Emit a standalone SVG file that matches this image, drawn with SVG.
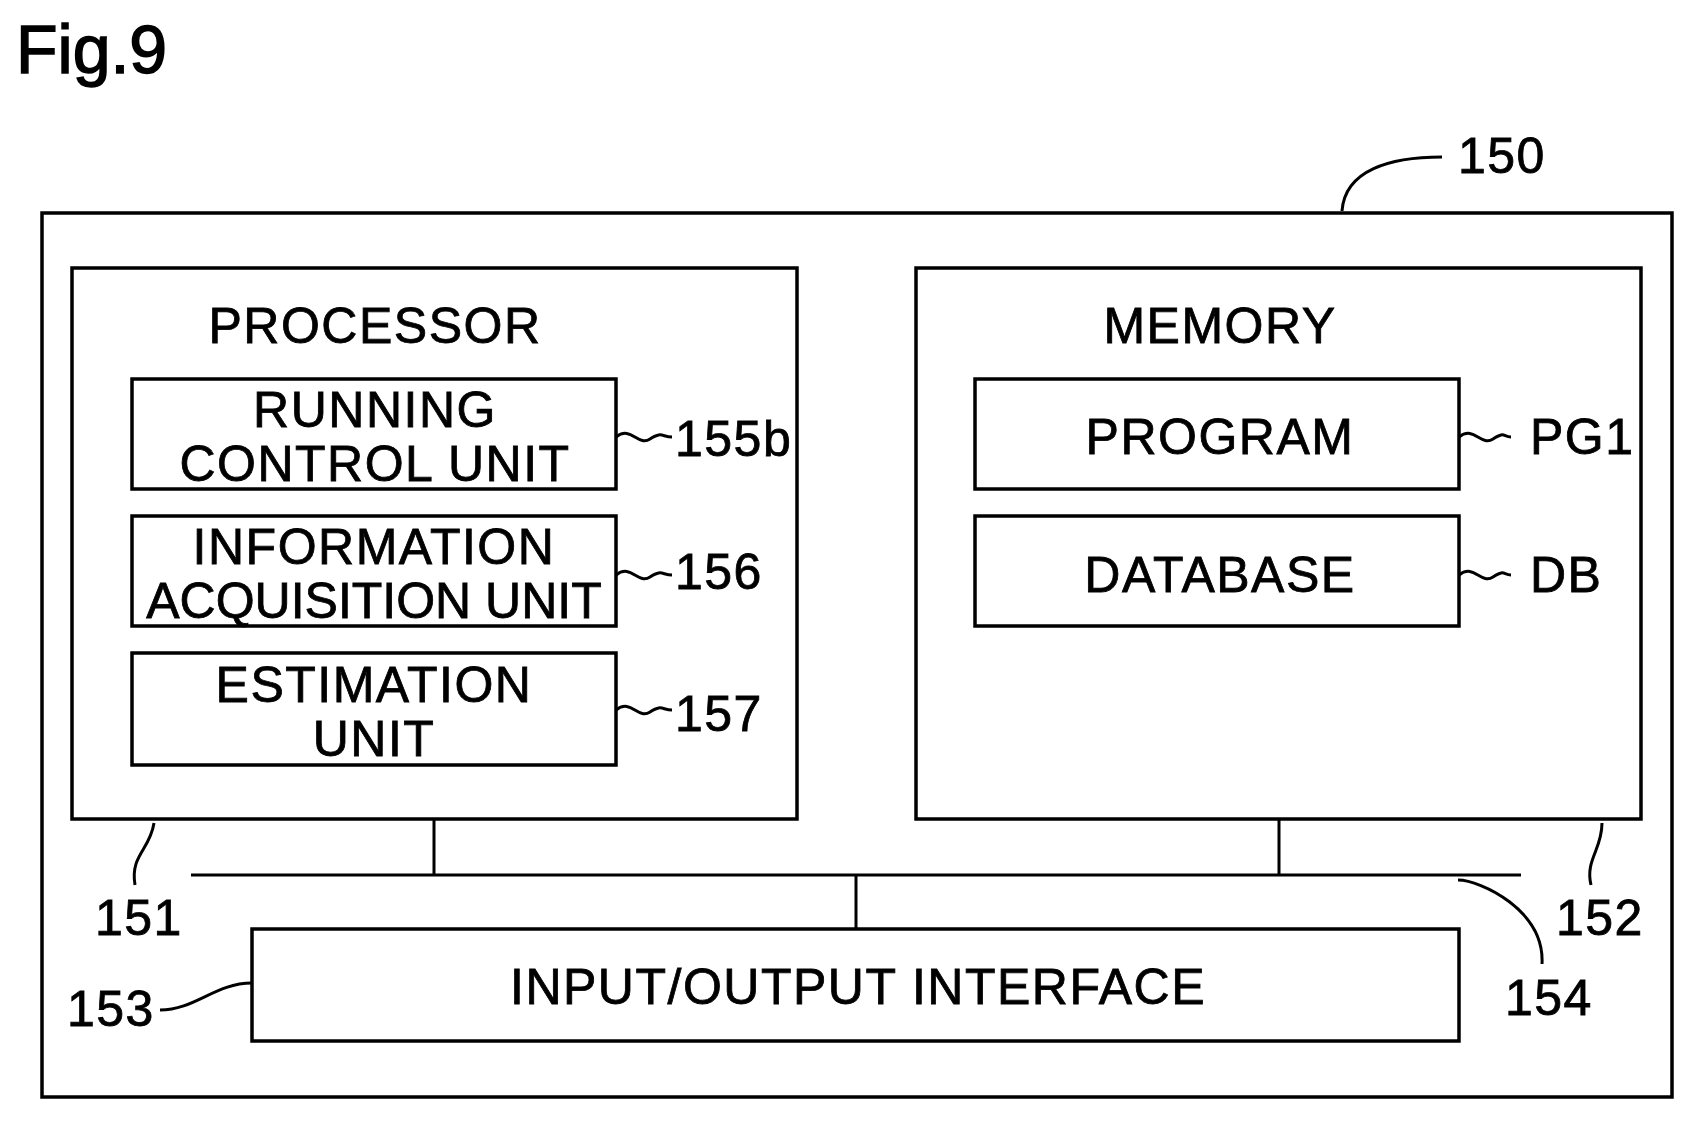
<svg xmlns="http://www.w3.org/2000/svg" width="1700" height="1124" viewBox="0 0 1700 1124">
<style>
rect{fill:none;stroke:#000;stroke-width:3.5}
.l{fill:none;stroke:#000;stroke-width:3}
text{font-family:"Liberation Sans",Arial,sans-serif;font-size:50px;fill:#000;letter-spacing:1.5px;stroke:#000;stroke-width:0.8px}
.c{text-anchor:middle}
</style>
<rect x="0" y="0" width="1700" height="1124" style="fill:#fff;stroke:none"/>
<text x="16" y="73" style="font-size:68px;stroke-width:1.5px;letter-spacing:0">Fig.9</text>
<g id="n150"><rect x="42" y="213" width="1630" height="884"/><text x="1458" y="173">150</text></g>
<g id="processor"><rect x="72" y="268" width="725" height="551"/><text class="c" x="375" y="343">PROCESSOR</text></g>
<g id="memory"><rect x="916" y="268" width="725" height="551"/><text class="c" x="1220" y="343">MEMORY</text></g>
<g id="n155b"><rect x="132" y="379" width="484" height="110"/><text class="c" x="375" y="427">RUNNING</text><text class="c" x="375" y="481">CONTROL UNIT</text><text x="675" y="456">155b</text></g>
<g id="n156"><rect x="132" y="516" width="484" height="110"/><text class="c" x="374" y="564">INFORMATION</text><text class="c" x="374" y="618" style="letter-spacing:0">ACQUISITION UNIT</text><text x="675" y="589">156</text></g>
<g id="n157"><rect x="132" y="653" width="484" height="112"/><text class="c" x="374" y="702">ESTIMATION</text><text class="c" x="374" y="756">UNIT</text><text x="675" y="731">157</text></g>
<g id="pg1"><rect x="975" y="379" width="484" height="110"/><text class="c" x="1220" y="454">PROGRAM</text><text x="1530" y="454">PG1</text></g>
<g id="db"><rect x="975" y="516" width="484" height="110"/><text class="c" x="1220" y="592">DATABASE</text><text x="1530" y="592">DB</text></g>
<g id="io"><rect x="252" y="929" width="1207" height="112"/><text class="c" x="858" y="1004">INPUT/OUTPUT INTERFACE</text></g>
<g id="labels"><text x="95" y="935">151</text><text x="1556" y="935">152</text><text x="67" y="1026">153</text><text x="1505" y="1015">154</text></g>
<g id="connectors">
<path class="l" d="M191 875H1521M434 819V875M1279 819V875M856 875V929"/>
<path class="l" d="M616 437c15 -12 22 10 34 2s12 -2 22 -2M616 575c15 -12 22 10 34 2s12 -2 22 -2M616 710c15 -12 22 10 34 2s12 -2 22 -2M1459 437c15 -12 22 10 34 2s10 -2 18 -2M1459 575c15 -12 22 10 34 2s10 -2 18 -2"/>
<path class="l" d="M1342 211C1345 170 1390 157 1442 157"/>
<path class="l" d="M154 823C150 850 130 855 135 885"/>
<path class="l" d="M1602 823C1602 850 1585 860 1591 885"/>
<path class="l" d="M1458 880C1480 880 1545 910 1542 964"/>
<path class="l" d="M160 1010C195 1010 215 983 252 983"/>
</g>
</svg>
